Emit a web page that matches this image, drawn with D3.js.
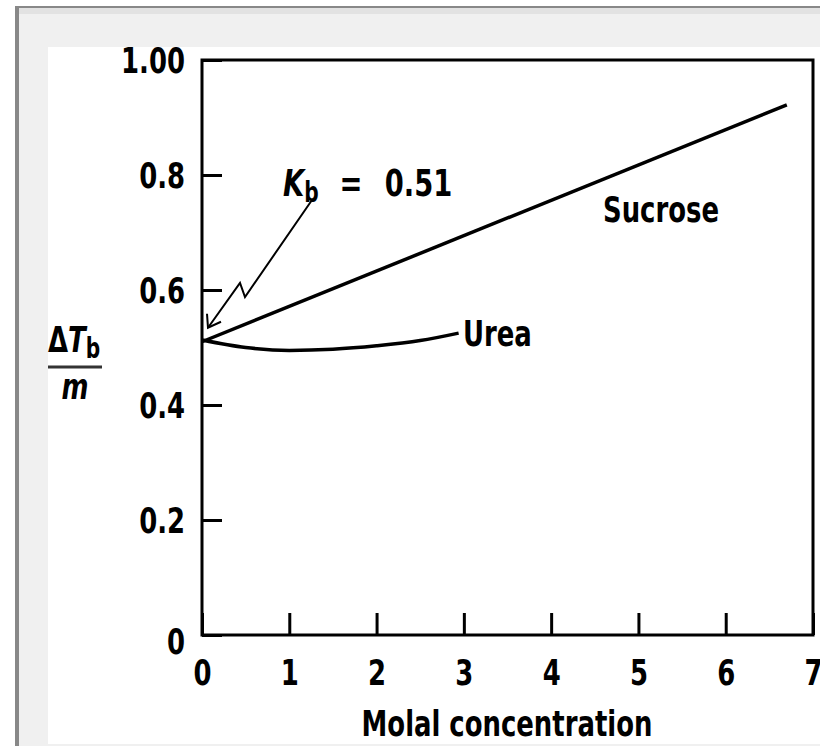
<html>
  <head>
    <meta charset="UTF-8">
    <style>
      body { margin: 0; background: #fff; }
      text { font-family: "Liberation Sans Narrow", "DejaVu Sans Condensed", "Arial Narrow", sans-serif; font-weight: bold; fill: #000; }
    </style>
  </head>
  <body>
    <script src="https://d3js.org/d3.v7.min.js"></script>
    <script>

var width = 820;
var height = 746;

// データ
var xTicks = [0, 1, 2, 3, 4, 5, 6, 7];
var yTicks = [0, 0.2, 0.4, 0.6, 0.8, 1.0];
var yTickLabels = ["0", "0.2", "0.4", "0.6", "0.8", "1.00"];

var sucroseX = [0, 6.7];
var sucroseY = [0.51, 0.922];

var ureaX = [0, 0.5, 1.0, 1.5, 2.0, 2.5, 2.94];
var ureaY = [0.513, 0.500, 0.495, 0.497, 0.503, 0.512, 0.525];

var kbValue = 0.51;

var FS = 36;      // 文字サイズ
var SQ = 0.8;     // 横方向の圧縮 (細長い書体の代わり)

// テキストを x 位置を中心に横方向へ圧縮する
function narrow(sel) {
    sel.each(function() {
        var t = d3.select(this);
        var ax = +t.attr("x") || 0;
        t.attr("transform", "translate(" + ax + ",0) scale(" + SQ + ",1) translate(" + (-ax) + ",0)");
    });
}

var svg = d3.select("body").append("svg")
    .attr("width", width).attr("height", height);

// 外枠 (スクリーンショット風)
svg.append("rect").attr("x", 15).attr("y", 6).attr("width", 805).attr("height", 740)
    .style("fill", "#f0f0f0");
svg.append("rect").attr("x", 19).attr("y", 8).attr("width", 801).attr("height", 6)
    .style("fill", "#e2e2e2");
svg.append("line").attr("x1", 15).attr("x2", 820).attr("y1", 7).attr("y2", 7)
    .style("stroke", "#888").attr("stroke-width", 2);
svg.append("line").attr("x1", 17).attr("x2", 17).attr("y1", 6).attr("y2", 746)
    .style("stroke", "#888").attr("stroke-width", 4);
svg.append("rect").attr("x", 48).attr("y", 47).attr("width", 772).attr("height", 697)
    .style("fill", "#fff");

var x = d3.scaleLinear().domain([0, 7]).range([202, 813]);
var y = d3.scaleLinear().domain([0, 1]).range([635, 60]);

// プロット枠
svg.append("rect")
    .attr("x", x(0)).attr("y", y(1))
    .attr("width", x(7) - x(0)).attr("height", y(0) - y(1))
    .style("fill", "none").style("stroke", "#000").attr("stroke-width", 3);

// y 軸 (目盛りは内向き)
var yAxis = svg.append("g")
    .attr("transform", "translate(" + x(0) + ",0)")
    .call(d3.axisLeft(y)
        .tickValues(yTicks)
        .tickSizeInner(-20).tickSizeOuter(0).tickPadding(17)
        .tickFormat(function(d, i) { return yTickLabels[i]; }));
yAxis.select(".domain").remove();
yAxis.selectAll("line").attr("stroke-width", 3);
yAxis.selectAll("text")
    .attr("font-size", FS).attr("font-family", null)
    .attr("dy", function(d) { return d === 0 ? "0.5em" : "0.36em"; })
    .call(narrow);

// x 軸
var xAxis = svg.append("g")
    .attr("transform", "translate(0," + y(0) + ")")
    .call(d3.axisBottom(x)
        .tickValues(xTicks)
        .tickSizeInner(-22).tickSizeOuter(0).tickPadding(24)
        .tickFormat(d3.format("d")));
xAxis.select(".domain").remove();
xAxis.selectAll("line").attr("stroke-width", 3);
xAxis.selectAll("text").attr("font-size", FS).attr("font-family", null).call(narrow);

svg.append("text")
    .attr("x", 507).attr("y", 736)
    .attr("text-anchor", "middle").attr("font-size", 36)
    .text("Molal concentration")
    .call(narrow);

// y 軸ラベル ΔTb / m
var yl = svg.append("text").attr("x", 48).attr("y", 352).attr("font-size", FS);
yl.append("tspan").text("Δ");
yl.append("tspan").style("font-style", "italic").text("T");
yl.append("tspan").attr("font-size", 28).attr("dy", 6).text("b");
yl.call(narrow);
svg.append("line").attr("x1", 48).attr("x2", 102).attr("y1", 367).attr("y2", 367)
    .style("stroke", "#333").attr("stroke-width", 3);
svg.append("text").attr("x", 75).attr("y", 399).attr("text-anchor", "middle")
    .attr("font-size", FS).style("font-style", "italic").text("m")
    .call(narrow);

// 曲線
var line = d3.line()
    .x(function(d) { return x(d[0]); })
    .y(function(d) { return y(d[1]); });

svg.append("path")
    .datum(d3.zip(sucroseX, sucroseY))
    .attr("d", line)
    .style("fill", "none").style("stroke", "#000").attr("stroke-width", 3.5);

svg.append("path")
    .datum(d3.zip(ureaX, ureaY))
    .attr("d", line.curve(d3.curveMonotoneX))
    .style("fill", "none").style("stroke", "#000").attr("stroke-width", 3.5);

svg.append("text").attr("x", x(2.99)).attr("y", y(0.525) + 13)
    .attr("font-size", FS).text("Urea").call(narrow);
svg.append("text").attr("x", 603).attr("y", 222)
    .attr("font-size", FS).text("Sucrose").call(narrow);

// Kb = 0.51 の注釈と稲妻形の矢印
var kb = svg.append("text").attr("x", 283).attr("y", 196).attr("font-size", 38);
kb.append("tspan").style("font-style", "italic").text("K");
kb.append("tspan").attr("font-size", 28).attr("dy", 6).text("b");
kb.append("tspan").attr("dy", -6).attr("dx", 26).text("=");
kb.append("tspan").attr("dx", 28).text(kbValue.toFixed(2));
kb.call(narrow);

var tipX = x(0) + 6, tipY = y(kbValue) - 14;
svg.append("path")
    .attr("d", "M312,200 L245,297 L240,283 L" + tipX + "," + tipY)
    .style("fill", "none").style("stroke", "#000").attr("stroke-width", 2);
svg.append("path")
    .attr("d", "M" + (tipX - 1) + "," + (tipY - 14) + " L" + tipX + "," + tipY + " L" + (tipX + 13) + "," + (tipY - 6))
    .style("fill", "none").style("stroke", "#000").attr("stroke-width", 2);

    </script>
  </body>
</html>
